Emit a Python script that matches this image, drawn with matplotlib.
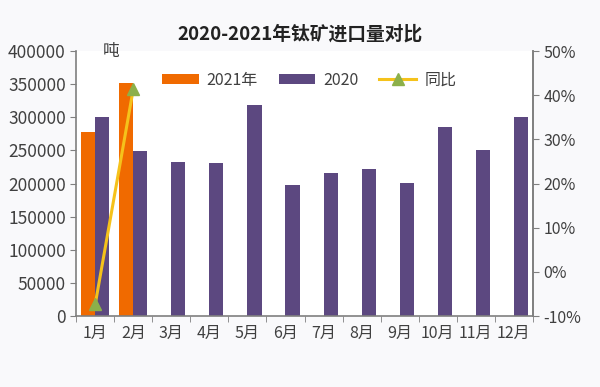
import numpy as np
import matplotlib
matplotlib.use("Agg")
import matplotlib.pyplot as plt
from matplotlib.ticker import FuncFormatter

plt.rcParams['font.family'] = ['Noto Sans CJK SC', 'DejaVu Sans']

# data
months = ['1月', '2月', '3月', '4月', '5月', '6月', '7月', '8月', '9月', '10月', '11月', '12月']
imports_2020 = [300000, 249000, 233000, 231000, 319000, 198000, 216000, 222000, 201000, 285000, 251000, 300000]
imports_2021 = [278000, 352000]
yoy_pct = [-7.3, 41.4]

orange = '#f06a00'
purple = '#5c4880'
line_yellow = '#f5c21b'
marker_green = '#8cb04a'
axis_gray = '#7f7f7f'
text_gray = '#404040'

fig = plt.figure(figsize=(6, 3.87), dpi=100)
fig.patch.set_facecolor('#f9f9fb')
ax = fig.add_axes([0.127, 0.183, 0.761, 0.685])
ax.set_facecolor('white')

x = np.arange(len(months))
w = 0.37
ax.bar(x[:len(imports_2021)] - w / 2, imports_2021, w, color=orange, label='2021年', zorder=2)
ax.bar(x + w / 2, imports_2020, w, color=purple, label='2020', zorder=2)

ax.set_xlim(-0.5, len(months) - 0.5)
ax.set_ylim(0, 400000)
ax.set_yticks(np.arange(0, 400001, 50000))
ax.set_xticks(x)
ax.set_xticklabels(months)
ax.set_xticks(np.arange(-0.5, len(months), 1), minor=True)
ax.tick_params(axis='x', which='major', length=0, pad=6, labelsize=11.5, colors=text_gray)
ax.tick_params(axis='x', which='minor', length=4, direction='out', color=axis_gray)
ax.tick_params(axis='y', length=4, color=axis_gray, labelsize=12.5, labelcolor=text_gray)

ax.spines['top'].set_visible(False)
for s in ['left', 'bottom', 'right']:
    ax.spines[s].set_color(axis_gray)
    ax.spines[s].set_linewidth(1.2)

# yoy on secondary axis
ax2 = ax.twinx()
ax2.plot(x[:len(yoy_pct)], yoy_pct, color=line_yellow, lw=2.2, marker='^', ms=9,
         markerfacecolor=marker_green, markeredgecolor=marker_green, label='同比', zorder=3)
ax2.set_ylim(-10, 50)
ax2.set_yticks(np.arange(-10, 51, 10))
ax2.yaxis.set_major_formatter(FuncFormatter(lambda v, p: f'{v:.0f}%'))
ax2.tick_params(axis='y', length=4, color=axis_gray, labelsize=11.5, labelcolor=text_gray)
for s in ['top', 'left', 'bottom']:
    ax2.spines[s].set_visible(False)
ax2.spines['right'].set_color(axis_gray)
ax2.spines['right'].set_linewidth(1.2)

h1, l1 = ax.get_legend_handles_labels()
h2, l2 = ax2.get_legend_handles_labels()
ax2.legend(h1 + h2, l1 + l2, loc='center', bbox_to_anchor=(0.51, 0.89), ncol=3,
           frameon=False, fontsize=11.5, handlelength=2.3, handleheight=0.6,
           columnspacing=1.3, handletextpad=0.5, labelcolor=text_gray)

ax.text(0.058, 1.0, '吨', transform=ax.transAxes, fontsize=12, color=text_gray, va='center')
fig.text(0.5, 0.912, '2020-2021年钛矿进口量对比', ha='center', va='center',
         fontsize=13.5, fontweight='bold', color='#222222')

fig.savefig('out.png', dpi=100, facecolor=fig.get_facecolor())
